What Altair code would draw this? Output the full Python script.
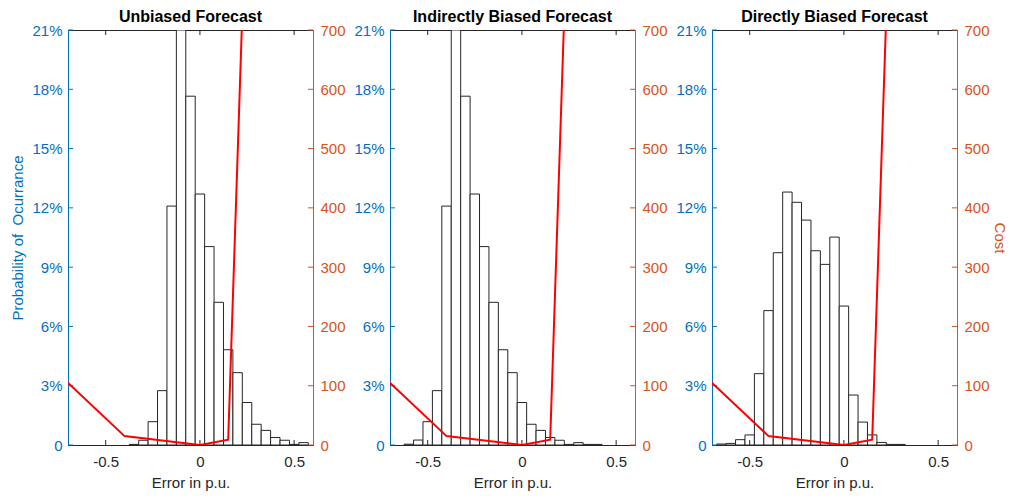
import altair as alt
import pandas as pd

# Histogram bins are 0.05 p.u. wide and centred on multiples of 0.05
BIN_WIDTH = 0.05

# Probability of occurrence (%) per error bin
unbiased_centers = [-0.35, -0.30, -0.25, -0.20, -0.15, -0.10, -0.05, 0.00, 0.05, 0.10,
                    0.15, 0.20, 0.25, 0.30, 0.35, 0.40, 0.45, 0.50, 0.55]
unbiased_pct = [0.03, 0.24, 1.18, 2.75, 12.09, 21.0, 17.65, 12.7, 10.04, 7.22,
                4.82, 3.66, 2.15, 1.05, 0.74, 0.38, 0.24, 0.03, 0.12]

indirect_centers = [-0.60, -0.55, -0.50, -0.45, -0.40, -0.35, -0.30, -0.25, -0.20, -0.15,
                    -0.10, -0.05, 0.00, 0.05, 0.10, 0.15, 0.20, 0.25, 0.30, 0.35, 0.40]
indirect_pct = [0.04, 0.25, 1.18, 2.75, 12.09, 21.0, 17.65, 12.7, 10.04, 7.22,
                4.82, 3.66, 2.15, 1.05, 0.74, 0.38, 0.24, 0.03, 0.12, 0.03, 0.03]

direct_centers = [-0.65, -0.60, -0.55, -0.50, -0.45, -0.40, -0.35, -0.30, -0.25, -0.20,
                  -0.15, -0.10, -0.05, 0.00, 0.05, 0.10, 0.15, 0.20, 0.25, 0.30]
direct_pct = [0.05, 0.08, 0.27, 0.51, 3.61, 6.80, 9.73, 12.80, 12.28, 11.38,
              9.83, 9.14, 10.52, 7.03, 2.53, 1.16, 0.51, 0.13, 0.03, 0.03]

# Piecewise-linear cost of the forecast error
cost_error = [-1.0, -0.4, 0.0, 0.15, 0.3]
cost_value = [195, 15, 0, 9, 1450]

x_ticks = [-0.5, 0, 0.5]
pct_ticks = [0, 3, 6, 9, 12, 15, 18, 21]
cost_ticks = [0, 100, 200, 300, 400, 500, 600, 700]

X_DOMAIN = [-0.7, 0.6]
PCT_DOMAIN = [0, 21]
COST_DOMAIN = [0, 700]

W, H = 245, 415
BLUE = "#0072BD"
ORANGE = "#D95319"
DARK = "#262626"
FONT = "Liberation Sans"
FS = 15

cost_df = pd.DataFrame({"error": cost_error, "cost": cost_value})
xtick_df = pd.DataFrame({"error": x_ticks})
ytick_df = pd.DataFrame({"pct": pct_ticks})

xs = alt.Scale(domain=X_DOMAIN, nice=False, zero=False)
ps = alt.Scale(domain=PCT_DOMAIN, nice=False)
cs = alt.Scale(domain=COST_DOMAIN, nice=False)

x_axis = alt.Axis(values=x_ticks, labelExpr="toString(datum.value)", title="Error in p.u.",
                  ticks=False, grid=False, domainColor=DARK, labelColor=DARK,
                  titleColor=DARK, labelPadding=9, titlePadding=6)


def xenc(field):
    return alt.X(field, scale=xs, axis=x_axis)


def panel(title, centers, pct, left_title=None, right_title=None):
    hist = pd.DataFrame({"center": centers, "pct": pct})
    hist["lo"] = hist["center"] - BIN_WIDTH / 2
    hist["hi"] = hist["center"] + BIN_WIDTH / 2

    left_axis = alt.Axis(values=pct_ticks, orient="left", ticks=False, grid=False,
                         labelExpr="datum.value == 0 ? '0' : datum.value + '%'",
                         domainColor=BLUE, labelColor=BLUE, titleColor=BLUE,
                         labelPadding=6, titlePadding=6,
                         title=left_title if left_title else "")

    right_axis = alt.Axis(values=cost_ticks, orient="right", ticks=False, grid=False,
                          domainColor=ORANGE, labelColor=ORANGE, titleColor=ORANGE,
                          labelPadding=7, titlePadding=2,
                          title=right_title if right_title else "")

    bars = alt.Chart(hist).mark_rect(
        fill="white", stroke=DARK, strokeWidth=1, clip=True
    ).encode(
        x=xenc("lo:Q"),
        x2="hi:Q",
        y=alt.Y("pct:Q", scale=ps, axis=left_axis),
        y2=alt.datum(0),
    )

    cost = alt.Chart(cost_df).mark_line(color="#FF0000", strokeWidth=2, clip=True).encode(
        x=xenc("error:Q"),
        y=alt.Y("cost:Q", scale=cs, axis=right_axis),
    )

    # inward tick marks on all four sides of the box
    bottom_ticks = alt.Chart(xtick_df).mark_rule(color=DARK, strokeWidth=1).encode(
        x=xenc("error:Q"), y=alt.value(H), y2=alt.value(H - 5))
    top_ticks = alt.Chart(xtick_df).mark_rule(color=DARK, strokeWidth=1).encode(
        x=xenc("error:Q"), y=alt.value(0), y2=alt.value(5))
    left_ticks = alt.Chart(ytick_df).mark_rule(color=BLUE, strokeWidth=1).encode(
        y=alt.Y("pct:Q", scale=ps, axis=None), x=alt.value(0), x2=alt.value(5))
    right_ticks = alt.Chart(ytick_df).mark_rule(color=ORANGE, strokeWidth=1).encode(
        y=alt.Y("pct:Q", scale=ps, axis=None), x=alt.value(W - 5), x2=alt.value(W))

    return alt.layer(bars, bottom_ticks, top_ticks, left_ticks, right_ticks, cost).resolve_scale(
        y="independent"
    ).properties(
        width=W, height=H,
        title=alt.TitleParams(title, fontSize=16, fontWeight="bold", color="black",
                              anchor="middle", offset=-2),
    )


chart = alt.hconcat(
    panel("Unbiased Forecast", unbiased_centers, unbiased_pct,
          left_title="Probability of\u00a0 Ocurrance"),
    panel("Indirectly Biased Forecast", indirect_centers, indirect_pct),
    panel("Directly Biased Forecast", direct_centers, direct_pct, right_title="Cost"),
    spacing=77, bounds="flush",
).properties(
    padding={"left": 10, "top": 8, "right": 4, "bottom": 0},
    background="white",
).configure(font=FONT).configure_axis(
    labelFontSize=FS, titleFontSize=FS, titleFontWeight="normal", labelFont=FONT, titleFont=FONT
).configure_view(stroke=DARK, strokeWidth=1)

chart.save("out.html", embed_options={"renderer": "svg", "actions": False})
